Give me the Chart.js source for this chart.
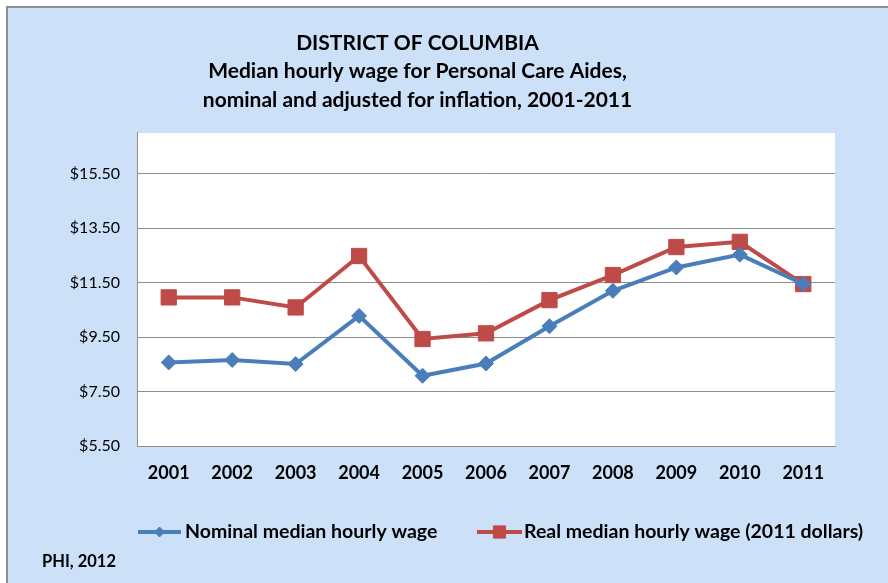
<!DOCTYPE html>
<html>
<head>
    <meta charset="UTF-8">
    <title>District of Columbia - Personal Care Aides wages</title>
    <script src="https://cdn.jsdelivr.net/npm/chart.js"></script>
    <style>
        body {
            margin: 0;
            width: 888px;
            height: 583px;
            overflow: hidden;
            background: #ffffff;
        }
        .frame {
            position: absolute;
            left: 6px;
            top: 6px;
            width: 882px;
            height: 577px;
            background: #cce0f8;
            border-left: 2px solid #8e8e8e;
            border-top: 2px solid #8e8e8e;
        }
        #wageChart {
            position: absolute;
            left: 0;
            top: 0;
        }
    </style>
</head>
<body>
    <div class="frame"></div>
    <canvas id="wageChart" width="888" height="583"></canvas>

    <script>
        // values
        const years = ['2001', '2002', '2003', '2004', '2005', '2006', '2007', '2008', '2009', '2010', '2011'];
        const nominalWage = [8.57, 8.66, 8.51, 10.28, 8.08, 8.53, 9.90, 11.20, 12.06, 12.53, 11.45];
        const realWage = [10.96, 10.96, 10.59, 12.48, 9.43, 9.64, 10.86, 11.78, 12.81, 13.00, 11.45];
        const yTickValues = [5.5, 7.5, 9.5, 11.5, 13.5, 15.5];

        const FONT = 'Lato, "Open Sans", sans-serif';
        const BLUE = '#4a7ebb';
        const RED = '#be4b48';

        // white plot area like Excel
        const plotBackground = {
            id: 'plotBackground',
            beforeDraw(chart) {
                const { ctx, chartArea: a } = chart;
                ctx.save();
                ctx.fillStyle = '#ffffff';
                ctx.fillRect(a.left, a.top, a.right - a.left, a.bottom - a.top);
                ctx.restore();
            }
        };

        // Excel style legend (line + marker) and source note
        const excelLegend = {
            id: 'excelLegend',
            afterDraw(chart) {
                const ctx = chart.ctx;
                const items = [
                    { ds: 0, x1: 138, x2: 181, tx: 185, r: 5 },
                    { ds: 1, x1: 477, x2: 522, tx: 524, r: 8.6 }
                ];
                const y = 532;
                ctx.save();
                items.forEach(it => {
                    const ds = chart.data.datasets[it.ds];
                    ctx.strokeStyle = ds.borderColor;
                    ctx.lineWidth = 4;
                    ctx.beginPath();
                    ctx.moveTo(it.x1, y);
                    ctx.lineTo(it.x2, y);
                    ctx.stroke();
                    ctx.fillStyle = ds.borderColor;
                    ctx.lineWidth = 1;
                    Chart.helpers.drawPoint(ctx, {
                        pointStyle: ds.pointStyle,
                        radius: it.r,
                        borderWidth: 1
                    }, (it.x1 + it.x2) / 2, y);
                    ctx.fillStyle = '#000000';
                    ctx.font = 'bold 19.5px ' + FONT;
                    ctx.textAlign = 'left';
                    ctx.textBaseline = 'middle';
                    ctx.fillText(ds.label, it.tx, y);
                });
                ctx.font = 'bold 16.5px ' + FONT;
                ctx.fillText('PHI, 2012', 42, 562);
                ctx.restore();
            }
        };

        const ctx = document.getElementById('wageChart').getContext('2d');
        Chart.defaults.font.family = FONT;
        Chart.defaults.color = '#000000';

        const chart = new Chart(ctx, {
            type: 'line',
            data: {
                labels: years,
                datasets: [{
                    label: 'Nominal median hourly wage',
                    data: nominalWage,
                    borderColor: BLUE,
                    backgroundColor: BLUE,
                    pointBackgroundColor: BLUE,
                    pointBorderColor: BLUE,
                    borderWidth: 4,
                    pointStyle: 'rectRot',
                    pointRadius: 7.5,
                    pointBorderWidth: 1,
                    tension: 0
                }, {
                    label: 'Real median hourly wage (2011 dollars)',
                    data: realWage,
                    borderColor: RED,
                    backgroundColor: RED,
                    pointBackgroundColor: RED,
                    pointBorderColor: RED,
                    borderWidth: 4,
                    pointStyle: 'rect',
                    pointRadius: 10.8,
                    pointBorderWidth: 1,
                    tension: 0
                }]
            },
            options: {
                responsive: false,
                animation: false,
                layout: {
                    padding: { left: 0, right: 53, top: 0, bottom: 97 }
                },
                plugins: {
                    legend: { display: false },
                    tooltip: { enabled: false },
                    title: {
                        display: true,
                        text: ['DISTRICT OF COLUMBIA',
                               'Median hourly wage for Personal Care Aides,',
                               'nominal and adjusted for inflation, 2001-2011'],
                        font: { size: 21, weight: 'bold', lineHeight: 1.357 },
                        color: '#000000',
                        padding: { top: 28.75, bottom: 18.75 }
                    }
                },
                scales: {
                    x: {
                        offset: true,
                        grid: { display: false, drawTicks: false },
                        border: { color: '#8e8e8e', width: 1 },
                        ticks: {
                            padding: 16,
                            font: { size: 18, weight: 'bold' }
                        },
                        afterFit(scale) { scale.height = 40; }
                    },
                    y: {
                        min: 5.5,
                        max: 17,
                        afterBuildTicks(scale) {
                            scale.ticks = yTickValues.map(v => ({ value: v }));
                        },
                        grid: { color: '#8e8e8e', drawTicks: false },
                        border: { color: '#8e8e8e', width: 1 },
                        ticks: {
                            padding: 17,
                            font: { size: 16 },
                            callback: v => '$' + Number(v).toFixed(2)
                        },
                        afterFit(scale) { scale.width = 137; }
                    }
                }
            },
            plugins: [plotBackground, excelLegend]
        });
    </script>
</body>
</html>
